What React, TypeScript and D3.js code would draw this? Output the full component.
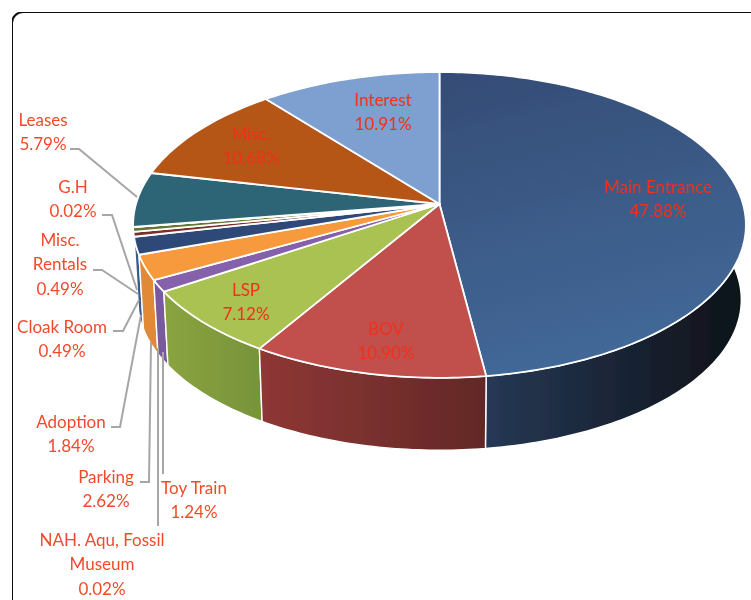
import React from "react";
import * as d3 from "d3";

const width = 751, height = 600;

// chart values, in pie order starting from 12 o'clock
const names = ["Main Entrance", "BOV", "LSP", "Toy Train", "Parking", "Adoption", "Cloak Room", "Misc. Rentals", "G.H", "NAH. Aqu, Fossil Museum", "Leases", "Misc.", "Interest"];
const shares = [47.88, 10.90, 7.12, 1.24, 2.62, 1.84, 0.49, 0.49, 0.02, 0.02, 5.79, 10.68, 10.91];
const topColors = ["url(#mainTop)", "#c14f4b", "#a9c251", "#8560ab", "#f79a3c", "#2f4a78", "#7d2f2c", "#62782f", "#8a8a8a", "#8a8a8a", "#2f6576", "#b55418", "#7ea0d0"];
const wallFrom = ["#2a3f60", "#8f3735", "#8ba440", "#7a5a9e", "#e08a37", "#3b5a8c", "#3b5a8c", "#3b5a8c", "#3b5a8c", "#3b5a8c", "#254f5c", "#8c4012", "#5f7fa8"];
const wallTo = ["#0e1117", "#622826", "#77933a", "#7a5a9e", "#e08a37", "#3b5a8c", "#3b5a8c", "#3b5a8c", "#3b5a8c", "#3b5a8c", "#254f5c", "#8c4012", "#5f7fa8"];

// label placement: centre x, then line centres
const labelLayout: Record<string, { x: number; y: number; lines: string[]; inside?: boolean }> = {
    "Main Entrance": { x: 658, y: 187, lines: ["Main Entrance"], inside: true },
    "BOV": { x: 386, y: 329, lines: ["BOV"], inside: true },
    "LSP": { x: 246, y: 290, lines: ["LSP"], inside: true },
    "Toy Train": { x: 194, y: 488, lines: ["Toy Train"] },
    "Parking": { x: 106, y: 477, lines: ["Parking"] },
    "Adoption": { x: 71, y: 422, lines: ["Adoption"] },
    "Cloak Room": { x: 62, y: 327, lines: ["Cloak Room"] },
    "Misc. Rentals": { x: 60, y: 240, lines: ["Misc.", "Rentals"] },
    "G.H": { x: 73, y: 187, lines: ["G.H"] },
    "NAH. Aqu, Fossil Museum": { x: 102, y: 540, lines: ["NAH. Aqu, Fossil", "Museum"] },
    "Leases": { x: 43, y: 120, lines: ["Leases"] },
    "Misc.": { x: 251, y: 134, lines: ["Misc."], inside: true },
    "Interest": { x: 383, y: 100, lines: ["Interest"], inside: true },
};

const leaders: [number, number][][] = [
    [[70, 149], [79, 149], [137, 197]],
    [[102, 215], [112, 215], [137, 290]],
    [[93, 270], [102, 270], [138, 294]],
    [[113, 331], [123, 331], [139, 300]],
    [[111, 427], [120, 427], [141, 315]],
    [[140, 482], [149, 482], [151, 342]],
    [[163, 474], [163, 352]],
    [[158, 526], [158, 348]],
];

// perspective pie: apex of the top face and how much the far side shrinks
const apexX = 439.5, apexY = 204;
const radiusX = 303.5, radiusY = 150, tilt = 0.137;
const wallDepth = 75, wallShrink = 0.985;

const project = (angle: number, depth: number): [number, number] => {
    const sx = Math.sin(angle), sy = Math.cos(angle);
    const w = 1 + tilt * sy;
    const shrink = depth ? wallShrink : 1;
    return [
        apexX + (radiusX * shrink * sx) / w,
        apexY + depth - (radiusY * shrink * sy) / w,
    ];
};

const rim = (a0: number, a1: number, depth: number) => {
    const n = Math.max(2, Math.ceil((a1 - a0) * 60));
    return d3.range(n + 1).map(i => project(a0 + ((a1 - a0) * i) / n, depth));
};

const line = d3.line();
const slices = d3.pie<number>().sort(null)(shares);

// walls are painted far side first so the near ones overlap them
const wallOrder = d3.range(slices.length).sort((a, b) =>
    Math.cos((slices[b].startAngle + slices[b].endAngle) / 2) - Math.cos((slices[a].startAngle + slices[a].endAngle) / 2)
);

const App = () => {
    return (
        <svg width={width} height={height} style={{ position: "absolute", left: 0, top: 0, background: "#fff" }}>
            <defs>
                <linearGradient id="mainTop" x1="0" y1="0" x2="0.25" y2="1">
                    <stop offset="0" stopColor="#344c75" />
                    <stop offset="1" stopColor="#426898" />
                </linearGradient>
                {slices.map((s, i) => (
                    <linearGradient key={i} id={`wall${i}`} x1="0" y1="0" x2="1" y2="0">
                        <stop offset="0" stopColor={wallFrom[i]} />
                        <stop offset="1" stopColor={wallTo[i]} />
                    </linearGradient>
                ))}
                <filter id="soft" x="0" y="0" width="100%" height="100%">
                    <feGaussianBlur stdDeviation="0.55" />
                </filter>
            </defs>
            <g filter="url(#soft)">
                <rect x={12} y={12} width={780} height={640} rx={11} fill="#fff" stroke="#111" strokeWidth={2} />

                {wallOrder.map(i => {
                    const s = slices[i];
                    return (
                        <path
                            key={i}
                            d={line([...rim(s.startAngle, s.endAngle, 0), ...rim(s.startAngle, s.endAngle, wallDepth).reverse()]) + "Z"}
                            fill={`url(#wall${i})`}
                            stroke="#fff"
                            strokeWidth={1.4}
                            strokeLinejoin="round"
                        />
                    );
                })}
                {slices.map((s, i) => (
                    <path
                        key={i}
                        d={line([[apexX, apexY], ...rim(s.startAngle, s.endAngle, 0)]) + "Z"}
                        fill={topColors[i]}
                        stroke="#fff"
                        strokeWidth={1.8}
                        strokeLinejoin="round"
                    />
                ))}

                {leaders.map((pts, i) => (
                    <path key={i} d={line(pts) ?? ""} fill="none" stroke="#a6a6a6" strokeWidth={2} />
                ))}

                <g fontFamily="Lato, sans-serif" fontSize={17} textAnchor="middle">
                    {names.map((name, i) => {
                        const lay = labelLayout[name];
                        const rows = [...lay.lines, `${shares[i].toFixed(2)}%`];
                        return rows.map((row, j) => (
                            <text key={`${i}-${j}`} x={lay.x} y={lay.y + j * 24.5} dy="0.35em" fill={lay.inside ? "#f0301c" : "#f24a2c"}>{row}</text>
                        ));
                    })}
                </g>
            </g>
        </svg>
    );
};

export default App;
